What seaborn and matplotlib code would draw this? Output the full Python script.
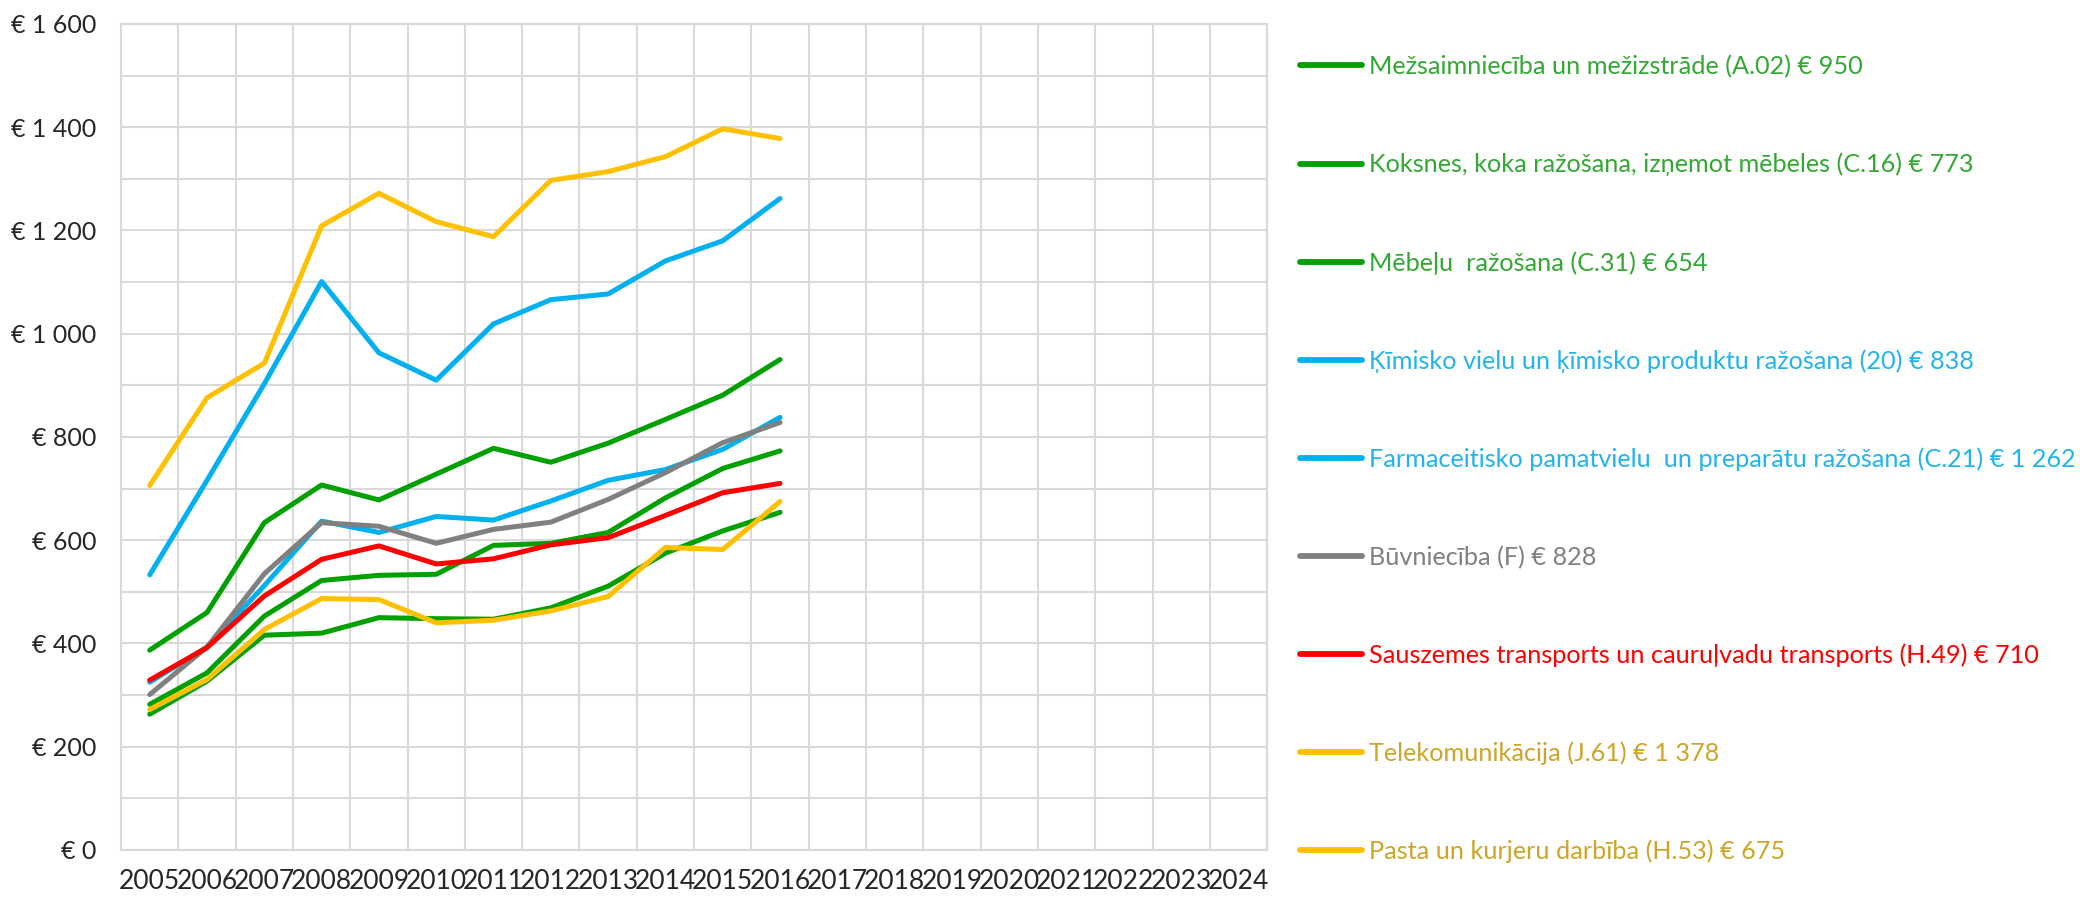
import matplotlib
matplotlib.use("Agg")
import matplotlib.pyplot as plt
import matplotlib.ticker as mticker
import numpy as np
import pandas as pd
import seaborn as sns

# values (EUR, 2005-2016)
years = list(range(2005, 2025))
data_years = list(range(2005, 2017))

series_names = [
    "Mežsaimniecība un mežizstrāde (A.02) € 950",
    "Koksnes, koka ražošana, izņemot mēbeles (C.16) € 773",
    "Mēbeļu  ražošana (C.31) € 654",
    "Ķīmisko vielu un ķīmisko produktu ražošana (20) € 838",
    "Farmaceitisko pamatvielu  un preparātu ražošana (C.21) € 1 262",
    "Būvniecība (F) € 828",
    "Sauszemes transports un cauruļvadu transports (H.49) € 710",
    "Telekomunikācija (J.61) € 1 378",
    "Pasta un kurjeru darbība (H.53) € 675",
]

mezsaimnieciba = [387, 460, 634, 707, 678, 728, 778, 751, 788, 834, 881, 950]
koksnes = [282, 343, 453, 522, 532, 534, 590, 594, 615, 682, 739, 773]
mebelu = [263, 327, 416, 420, 450, 448, 447, 469, 511, 575, 618, 654]
kimisko = [325, 393, 512, 637, 615, 646, 639, 676, 716, 737, 776, 838]
farmac = [533, 716, 903, 1101, 963, 910, 1019, 1066, 1077, 1141, 1180, 1262]
buvnieciba = [301, 393, 535, 634, 627, 594, 621, 635, 679, 731, 789, 828]
sauszemes = [329, 392, 492, 563, 589, 554, 564, 591, 605, 648, 692, 710]
telekom = [706, 876, 943, 1209, 1272, 1217, 1188, 1297, 1314, 1343, 1397, 1378]
pasta = [272, 330, 427, 487, 485, 440, 445, 463, 491, 586, 582, 675]

all_values = [mezsaimnieciba, koksnes, mebelu, kimisko, farmac,
              buvnieciba, sauszemes, telekom, pasta]

green, blue, grey, red, yellow = "#00A000", "#00B0F0", "#808080", "#FF0000", "#FFC000"
line_colors = [green, green, green, blue, blue, grey, red, yellow, yellow]
text_colors = ["#33A833", "#33A833", "#33A833", "#22B4EE", "#22B4EE",
               "#808080", "#FF0000", "#CDA52A", "#CDA52A"]

rows = []
for name, vals in zip(series_names, all_values):
    for y, v in zip(data_years, vals):
        rows.append({"year": y, "value": v, "series": name})
df = pd.DataFrame(rows)

sns.set_style("white")
plt.rcParams["font.family"] = ["Lato", "DejaVu Sans"]

fig = plt.figure(figsize=(20.8, 8.98), dpi=100)
ax = fig.add_axes([0.0582, 0.0535, 0.5510, 0.9198])

sns.lineplot(data=df, x="year", y="value", hue="series", hue_order=series_names,
             palette=dict(zip(series_names, line_colors)), linewidth=3.6,
             sort=False, ax=ax)

ax.set_xlim(years[0] - 0.5, years[-1] + 0.5)
ax.set_ylim(0, 1600)
ax.set_xticks(years)
ax.set_xticklabels([str(y) for y in years])
ax.set_yticks(np.arange(0, 1601, 200))
ax.yaxis.set_major_formatter(mticker.FuncFormatter(
    lambda v, p: "€ " + f"{v:,.0f}".replace(",", " ")))
ax.yaxis.set_minor_locator(mticker.MultipleLocator(100))
ax.xaxis.set_minor_locator(mticker.FixedLocator([y + 0.5 for y in years]))
ax.grid(which="major", axis="y", color="#D9D9D9", linewidth=1.5)
ax.grid(which="minor", axis="both", color="#D9D9D9", linewidth=1.5)
ax.grid(which="major", axis="x", visible=False)
ax.set_axisbelow(True)
for s in ax.spines.values():
    s.set_color("#D9D9D9")
    s.set_linewidth(1.5)
ax.tick_params(which="both", length=0)
ax.tick_params(axis="y", labelsize=18, pad=18, colors="#262626")
ax.tick_params(axis="x", labelsize=19, pad=14, colors="#262626")
ax.set_xlabel("")
ax.set_ylabel("")

handles, labels = ax.get_legend_handles_labels()
ax.get_legend().remove()
leg = fig.legend(handles, labels, loc="upper left", bbox_to_anchor=(0.620, 0.950),
                 frameon=False, fontsize=18.2, handlelength=2.45, handletextpad=0.3,
                 labelspacing=2.95, borderaxespad=0)
for t, c in zip(leg.get_texts(), text_colors):
    t.set_color(c)
for h in leg.get_lines():
    h.set_linewidth(4.2)
    h.set_solid_capstyle("round")

fig.savefig("out.png", dpi=100)
